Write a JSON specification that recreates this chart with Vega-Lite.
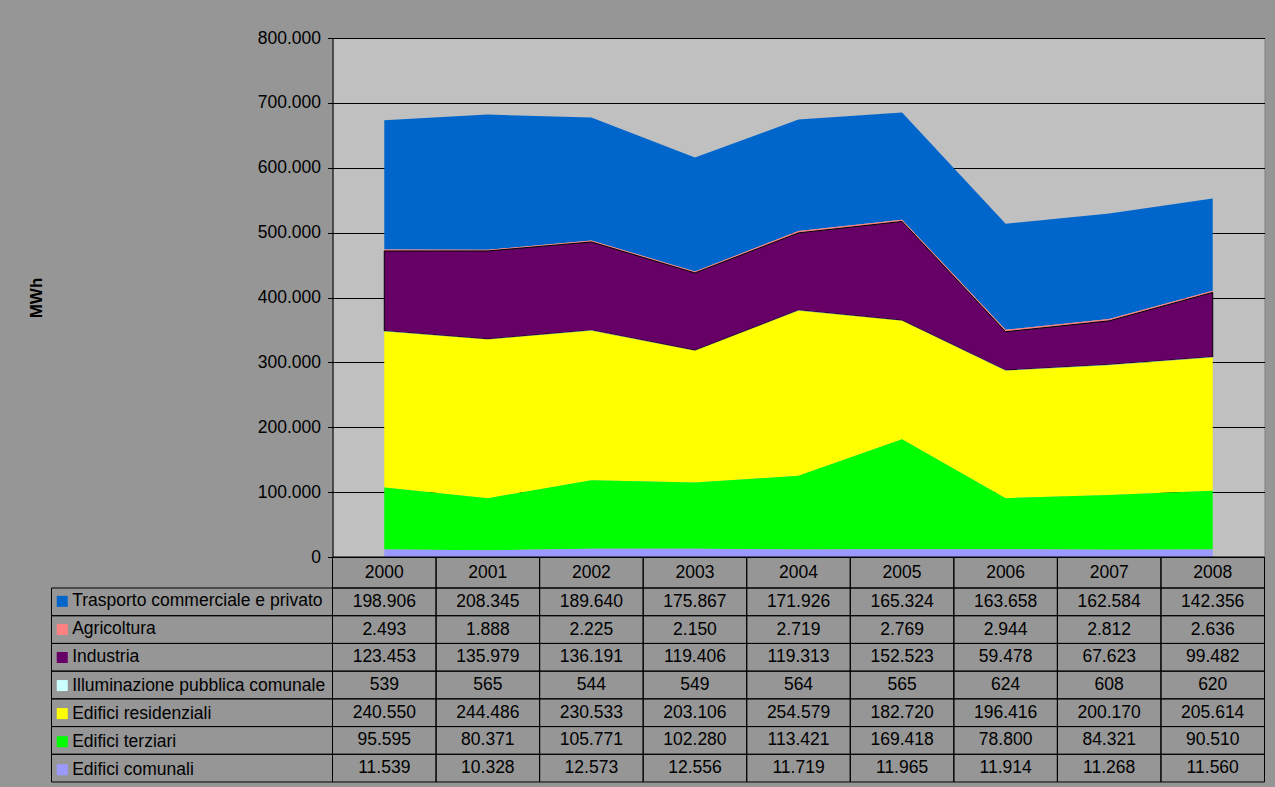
{
  "$schema": "https://vega.github.io/schema/vega-lite/v6.json",
  "background": "#969696",
  "padding": {"left": 26.5, "top": 28, "right": 20, "bottom": 20},
  "datasets": {
    "s": [
      {"serie": "Trasporto commerciale e privato", "ord": 7},
      {"serie": "Agricoltura", "ord": 6},
      {"serie": "Industria", "ord": 5},
      {"serie": "Illuminazione pubblica comunale", "ord": 4},
      {"serie": "Edifici residenziali", "ord": 3},
      {"serie": "Edifici terziari", "ord": 2},
      {"serie": "Edifici comunali", "ord": 1}
    ],
    "d": [
      {"serie": "Trasporto commerciale e privato", "year": "2000", "v": 198906},
      {"serie": "Trasporto commerciale e privato", "year": "2001", "v": 208345},
      {"serie": "Trasporto commerciale e privato", "year": "2002", "v": 189640},
      {"serie": "Trasporto commerciale e privato", "year": "2003", "v": 175867},
      {"serie": "Trasporto commerciale e privato", "year": "2004", "v": 171926},
      {"serie": "Trasporto commerciale e privato", "year": "2005", "v": 165324},
      {"serie": "Trasporto commerciale e privato", "year": "2006", "v": 163658},
      {"serie": "Trasporto commerciale e privato", "year": "2007", "v": 162584},
      {"serie": "Trasporto commerciale e privato", "year": "2008", "v": 142356},
      {"serie": "Agricoltura", "year": "2000", "v": 2493},
      {"serie": "Agricoltura", "year": "2001", "v": 1888},
      {"serie": "Agricoltura", "year": "2002", "v": 2225},
      {"serie": "Agricoltura", "year": "2003", "v": 2150},
      {"serie": "Agricoltura", "year": "2004", "v": 2719},
      {"serie": "Agricoltura", "year": "2005", "v": 2769},
      {"serie": "Agricoltura", "year": "2006", "v": 2944},
      {"serie": "Agricoltura", "year": "2007", "v": 2812},
      {"serie": "Agricoltura", "year": "2008", "v": 2636},
      {"serie": "Industria", "year": "2000", "v": 123453},
      {"serie": "Industria", "year": "2001", "v": 135979},
      {"serie": "Industria", "year": "2002", "v": 136191},
      {"serie": "Industria", "year": "2003", "v": 119406},
      {"serie": "Industria", "year": "2004", "v": 119313},
      {"serie": "Industria", "year": "2005", "v": 152523},
      {"serie": "Industria", "year": "2006", "v": 59478},
      {"serie": "Industria", "year": "2007", "v": 67623},
      {"serie": "Industria", "year": "2008", "v": 99482},
      {"serie": "Illuminazione pubblica comunale", "year": "2000", "v": 539},
      {"serie": "Illuminazione pubblica comunale", "year": "2001", "v": 565},
      {"serie": "Illuminazione pubblica comunale", "year": "2002", "v": 544},
      {"serie": "Illuminazione pubblica comunale", "year": "2003", "v": 549},
      {"serie": "Illuminazione pubblica comunale", "year": "2004", "v": 564},
      {"serie": "Illuminazione pubblica comunale", "year": "2005", "v": 565},
      {"serie": "Illuminazione pubblica comunale", "year": "2006", "v": 624},
      {"serie": "Illuminazione pubblica comunale", "year": "2007", "v": 608},
      {"serie": "Illuminazione pubblica comunale", "year": "2008", "v": 620},
      {"serie": "Edifici residenziali", "year": "2000", "v": 240550},
      {"serie": "Edifici residenziali", "year": "2001", "v": 244486},
      {"serie": "Edifici residenziali", "year": "2002", "v": 230533},
      {"serie": "Edifici residenziali", "year": "2003", "v": 203106},
      {"serie": "Edifici residenziali", "year": "2004", "v": 254579},
      {"serie": "Edifici residenziali", "year": "2005", "v": 182720},
      {"serie": "Edifici residenziali", "year": "2006", "v": 196416},
      {"serie": "Edifici residenziali", "year": "2007", "v": 200170},
      {"serie": "Edifici residenziali", "year": "2008", "v": 205614},
      {"serie": "Edifici terziari", "year": "2000", "v": 95595},
      {"serie": "Edifici terziari", "year": "2001", "v": 80371},
      {"serie": "Edifici terziari", "year": "2002", "v": 105771},
      {"serie": "Edifici terziari", "year": "2003", "v": 102280},
      {"serie": "Edifici terziari", "year": "2004", "v": 113421},
      {"serie": "Edifici terziari", "year": "2005", "v": 169418},
      {"serie": "Edifici terziari", "year": "2006", "v": 78800},
      {"serie": "Edifici terziari", "year": "2007", "v": 84321},
      {"serie": "Edifici terziari", "year": "2008", "v": 90510},
      {"serie": "Edifici comunali", "year": "2000", "v": 11539},
      {"serie": "Edifici comunali", "year": "2001", "v": 10328},
      {"serie": "Edifici comunali", "year": "2002", "v": 12573},
      {"serie": "Edifici comunali", "year": "2003", "v": 12556},
      {"serie": "Edifici comunali", "year": "2004", "v": 11719},
      {"serie": "Edifici comunali", "year": "2005", "v": 11965},
      {"serie": "Edifici comunali", "year": "2006", "v": 11914},
      {"serie": "Edifici comunali", "year": "2007", "v": 11268},
      {"serie": "Edifici comunali", "year": "2008", "v": 11560}
    ]
  },
  "columns": 2,
  "spacing": 0,
  "bounds": "flush",
  "align": "each",
  "resolve": {"scale": {"color": "independent"}, "legend": {"color": "independent"}},
  "concat": [
    {
      "width": 281, "height": 519,
      "data": {"name": "s"},
      "mark": {"type": "point", "opacity": 0},
      "encoding": {}
    },
    {
      "width": 932, "height": 519,
      "view": {"fill": "#c0c0c0", "stroke": "#808080"},
      "data": {"name": "d"},
      "transform": [{"lookup": "serie", "from": {"data": {"name": "s"}, "key": "serie", "fields": ["ord"]}}],
      "mark": {"type": "area", "interpolate": "linear"},
      "encoding": {
        "x": {"field": "year", "type": "ordinal", "scale": {"type": "point", "padding": 0.5}, "axis": null},
        "y": {
          "field": "v", "type": "quantitative", "stack": "zero",
          "scale": {"domain": [0, 800000], "nice": false},
          "axis": {
            "title": "MWh", "format": ",d",
            "values": [0, 100000, 200000, 300000, 400000, 500000, 600000, 700000, 800000],
            "grid": true, "gridColor": "#000000", "gridWidth": 1,
            "domainColor": "#000000", "tickColor": "#000000", "tickSize": 5, "labelPadding": 7,
            "labelFontSize": 17.5, "labelColor": "#000000", "labelFont": "Liberation Sans",
            "titleFontSize": 17, "titleFontWeight": "bold", "titleColor": "#000000", "titleFont": "Liberation Sans",
            "titleX": -296, "titleBaseline": "middle"
          }
        },
        "color": {
          "field": "serie", "type": "nominal",
          "scale": {
            "domain": ["Trasporto commerciale e privato", "Agricoltura", "Industria", "Illuminazione pubblica comunale", "Edifici residenziali", "Edifici terziari", "Edifici comunali"],
            "range": ["#0066cc", "#ff8080", "#660066", "#ccffff", "#ffff00", "#00ff00", "#9999ff"]
          },
          "legend": {
            "orient": "none", "legendX": -279, "legendY": 554.6,
            "title": null, "symbolType": "square", "symbolSize": 121,
            "labelFontSize": 17.5, "labelColor": "#000000", "labelFont": "Liberation Sans", "labelLimit": 400,
            "labelOffset": 1.2, "rowPadding": 9.07, "padding": 0, "symbolStrokeWidth": 1,
            "encode": {"symbols": {"update": {"stroke": {"signal": "datum.value === 'Industria' ? '#000000' : 'transparent'"}, "opacity": {"value": 1}}}}
          }
        },
        "order": {"field": "ord", "type": "quantitative"},
        "stroke": {"condition": {"test": "datum.serie === 'Industria'", "value": "#000000"}, "value": "transparent"},
        "strokeWidth": {"value": 1}
      }
    },
    {
      "width": 281, "height": 31,
      "data": {"name": "s"},
      "mark": {"type": "point", "opacity": 0},
      "encoding": {}
    },
    {
      "width": 932, "height": 31,
      "data": {"name": "d"},
      "transform": [{"aggregate": [{"op": "count", "as": "n"}], "groupby": ["year"]}],
      "encoding": {
        "x": {"field": "year", "type": "ordinal", "axis": null, "scale": {"paddingInner": 0, "paddingOuter": 0}}
      },
      "layer": [
        {"mark": {"type": "rect", "fill": "transparent", "stroke": "#000000", "strokeWidth": 1}},
        {"mark": {"type": "text", "fontSize": 17.5, "font": "Liberation Sans", "color": "#000000"}, "encoding": {"text": {"field": "year", "type": "nominal"}}}
      ]
    },
    {
      "width": 281, "height": 194,
      "data": {"name": "s"},
      "mark": {"type": "rect", "fill": "transparent", "stroke": "#000000", "strokeWidth": 1},
      "encoding": {
        "y": {"field": "serie", "type": "nominal", "axis": null, "sort": null,
              "scale": {"domain": ["Trasporto commerciale e privato", "Agricoltura", "Industria", "Illuminazione pubblica comunale", "Edifici residenziali", "Edifici terziari", "Edifici comunali"], "paddingInner": 0, "paddingOuter": 0}}
      }
    },
    {
      "width": 932, "height": 194,
      "data": {"name": "d"},
      "encoding": {
        "x": {"field": "year", "type": "ordinal", "axis": null, "scale": {"paddingInner": 0, "paddingOuter": 0}},
        "y": {"field": "serie", "type": "nominal", "axis": null, "sort": null,
              "scale": {"domain": ["Trasporto commerciale e privato", "Agricoltura", "Industria", "Illuminazione pubblica comunale", "Edifici residenziali", "Edifici terziari", "Edifici comunali"], "paddingInner": 0, "paddingOuter": 0}}
      },
      "layer": [
        {"mark": {"type": "rect", "fill": "transparent", "stroke": "#000000", "strokeWidth": 1}},
        {"mark": {"type": "text", "fontSize": 17.5, "font": "Liberation Sans", "color": "#000000"}, "encoding": {"text": {"field": "v", "type": "quantitative", "format": ",d"}}}
      ]
    }
  ],
  "config": {
    "font": "Liberation Sans",
    "view": {"stroke": null},
    "locale": {"number": {"decimal": ",", "thousands": ".", "grouping": [3], "currency": ["€", ""]}}
  }
}
